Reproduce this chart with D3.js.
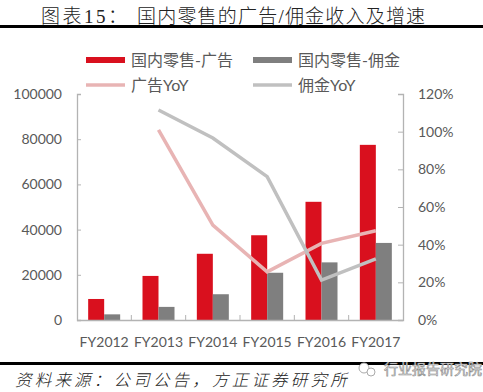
<!DOCTYPE html>
<html><head><meta charset="utf-8">
<script src="https://cdn.jsdelivr.net/npm/d3@7"></script>
<style>body{margin:0;background:#fff}svg{display:block}</style>
</head><body>
<script>
const categories = ["FY2012","FY2013","FY2014","FY2015","FY2016","FY2017"];
const adRevenue = [9300, 19500, 29300, 37500, 52300, 77500];
const commissionRevenue = [2500, 5800, 11400, 20900, 25500, 34100];
const adYoY = [null, 101, 50.4, 25.6, 40.7, 47.4];
const commissionYoY = [null, 111.5, 96.6, 76.1, 21.2, 32.4];
const leftTicks = [0, 20000, 40000, 60000, 80000, 100000];
const rightTicks = [0, 20, 40, 60, 80, 100, 120];
const seriesNames = ["国内零售-广告", "国内零售-佣金", "广告YoY", "佣金YoY"];
const titleText = "图表15：", titleText2 = "国内零售的广告/佣金收入及增速";
const sourceText = "资料来源：公司公告，方正证券研究所";
const watermark = "行业报告研究院";

const W = 483, H = 392;
const svg = d3.select("body").append("svg").attr("width", W).attr("height", H);
const cjk = "'Noto Sans CJK SC', sans-serif";
const num = "Lato, 'Liberation Sans', sans-serif";
const txt = "#595959", axisCol = "#b3b3b3";
const red = "#d9101e", grey = "#7f7f7f", pink = "#e8b4b4", lgrey = "#c0c0c0";

// title
svg.append("text").attr("x", 41).attr("y", 23).attr("font-family", "'Liberation Serif', 'Noto Sans CJK SC', serif")
  .attr("font-size", 19).attr("font-weight", 300).attr("letter-spacing", 2.5).attr("fill", "#222").text(titleText);
svg.append("text").attr("x", 137).attr("y", 23).attr("font-family", "'Liberation Serif', 'Noto Sans CJK SC', serif")
  .attr("font-size", 19).attr("font-weight", 300).attr("letter-spacing", 1.2).attr("fill", "#222").text(titleText2);
svg.append("rect").attr("x", 0).attr("y", 25).attr("width", W).attr("height", 3).attr("fill", "#000");

const x0 = 77, x1 = 403, yTop = 94, yBot = 320;
const x = d3.scaleBand().domain(categories).range([x0, x1]).paddingInner(0).paddingOuter(0);
const inner = d3.scaleBand().domain([0, 1]).range([0, 32]);
const yL = d3.scaleLinear().domain([0, 100000]).range([yBot, yTop]);
const yR = d3.scaleLinear().domain([0, 120]).range([yBot, yTop]);

// bars
const bw = 32, off = (x.bandwidth() - bw) / 2;
svg.append("g").selectAll("rect").data(categories).join("rect")
  .attr("x", d => x(d) + off + inner(0)).attr("width", inner.bandwidth())
  .attr("y", (d, i) => yL(adRevenue[i])).attr("height", (d, i) => yBot - yL(adRevenue[i])).attr("fill", red);
svg.append("g").selectAll("rect").data(categories).join("rect")
  .attr("x", d => x(d) + off + inner(1)).attr("width", inner.bandwidth())
  .attr("y", (d, i) => yL(commissionRevenue[i])).attr("height", (d, i) => yBot - yL(commissionRevenue[i])).attr("fill", grey);

// axes
const gl = svg.append("g").attr("transform", `translate(${x0},0)`)
  .call(d3.axisLeft(yL).tickValues(leftTicks).tickFormat(d3.format("d")).tickSize(-4).tickPadding(15));
const gr = svg.append("g").attr("transform", `translate(${x1},0)`)
  .call(d3.axisRight(yR).tickValues(rightTicks).tickFormat(d => d + "%").tickSize(-5).tickPadding(15));
const gb = svg.append("g").attr("transform", `translate(0,${yBot})`)
  .call(d3.axisBottom(x).tickSize(0).tickPadding(17));
// category boundary ticks (inside)
svg.append("g").selectAll("line").data(categories.slice(1)).join("line")
  .attr("x1", d => x(d)).attr("x2", d => x(d)).attr("y1", yBot).attr("y2", yBot - 5)
  .attr("stroke", axisCol);
[gl, gr, gb].forEach(g => {
  g.selectAll("path").attr("stroke", axisCol).attr("stroke-width", 1.3);
  g.selectAll("line").attr("stroke", axisCol);
  g.selectAll("text").attr("fill", txt).attr("font-family", num).attr("font-size", 14);
});
gb.select("path").attr("d", `M${x0},0.5H${x1}`);

// lines
svg.append("path").datum(adYoY).attr("d", d3.line().defined(d => d != null)
  .x((d, i) => x(categories[i]) + x.bandwidth() / 2).y(d => yR(d)))
  .attr("fill", "none").attr("stroke", pink).attr("stroke-width", 3.5);
svg.append("path").datum(commissionYoY).attr("d", d3.line().defined(d => d != null)
  .x((d, i) => x(categories[i]) + x.bandwidth() / 2).y(d => yR(d)))
  .attr("fill", "none").attr("stroke", lgrey).attr("stroke-width", 3.5);

// legend
const leg = [
  {x: 86, y: 60, name: seriesNames[0], type: "rect", c: red},
  {x: 253, y: 60, name: seriesNames[1], type: "rect", c: grey},
  {x: 86, y: 85, name: seriesNames[2], type: "line", c: pink},
  {x: 253, y: 85, name: seriesNames[3], type: "line", c: lgrey}
];
leg.forEach(l => {
  if (l.type === "rect") svg.append("rect").attr("x", l.x).attr("y", l.y - 3).attr("width", 39).attr("height", 6).attr("fill", l.c);
  else svg.append("line").attr("x1", l.x).attr("x2", l.x + 39).attr("y1", l.y).attr("y2", l.y).attr("stroke", l.c).attr("stroke-width", 3.5);
  svg.append("text").attr("x", l.x + 45).attr("y", l.y).attr("dy", "0.36em")
    .attr("font-family", "Lato, " + cjk).attr("font-size", 16).attr("fill", txt).text(l.name);
});

// footer
svg.append("rect").attr("x", 0).attr("y", 362).attr("width", W).attr("height", 3).attr("fill", "#000");
svg.append("text").attr("x", 15).attr("y", 386).attr("font-family", cjk).attr("font-size", 16.5)
  .attr("font-style", "italic").attr("font-weight", 300).attr("letter-spacing", 3.2).attr("fill", "#222").text(sourceText);
// watermark
const wm = svg.append("g").attr("transform", "translate(367,369)");
wm.append("circle").attr("cx", -3).attr("cy", -1).attr("r", 5).attr("fill", "#fff").attr("stroke", "#aaa");
wm.append("circle").attr("cx", 4).attr("cy", 3).attr("r", 4).attr("fill", "#fff").attr("stroke", "#aaa");
svg.append("text").attr("x", 384).attr("y", 369).attr("dy", "0.36em").attr("font-family", cjk).attr("font-size", 14)
  .attr("fill", "#f4f4f4").attr("stroke", "#8a8a8a").attr("stroke-width", 0.6).text(watermark);
</script>
</body></html>
